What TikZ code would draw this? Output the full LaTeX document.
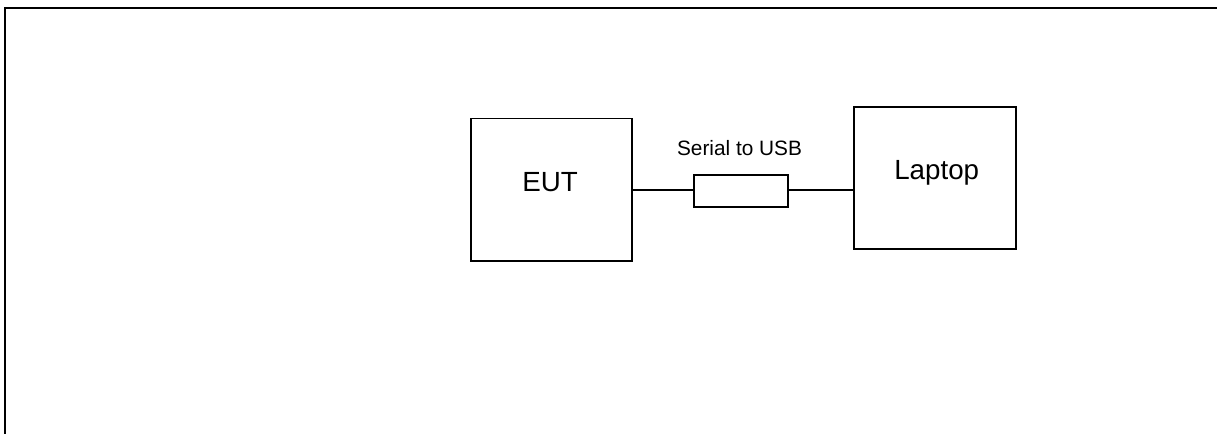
\documentclass[tikz,border=0pt]{standalone}
\usepackage{fontspec}
\setmainfont{Liberation Sans}
\begin{document}
\begin{tikzpicture}[x = .75pt, y = -.75pt,
    unit/.style = {draw, line width = 1.3pt, inner sep = 0pt},
    bigtext/.style = {font = \fontsize{20.8}{24}\selectfont, text depth = 0pt, inner sep = 0pt},
    smalltext/.style = {font = \fontsize{15.6}{18}\selectfont, text depth = 0pt, inner sep = 0pt}]
    \useasboundingbox (0,0) rectangle (1217,433);
    \draw [line width = 1.7pt] (5,445) -- (5,8) -- (1217,8);
    \node [unit, minimum width = 121pt, minimum height = 107pt] (eut) at (551.5,189.7) {};
    \node [bigtext] at (550,181.7) {EUT};
    \node [unit, minimum width = 70.5pt, minimum height = 24pt] (adapter) at (741.3,191) {};
    \node [smalltext] (adapterlabel) at (739.5,147.7) {Serial to USB};
    \node [unit, minimum width = 121.5pt, minimum height = 106.5pt] (laptop) at (934.7,178.3) {};
    \node [bigtext] at (936.7,169.7) {Laptop};
    \draw [line width = 1.3pt] (eut.east) -- (eut.east -| adapter.west);
    \draw [line width = 1.3pt] (adapter.east |- eut.east) -- (eut.east -| laptop.west);
  \end{tikzpicture}
\end{document}
